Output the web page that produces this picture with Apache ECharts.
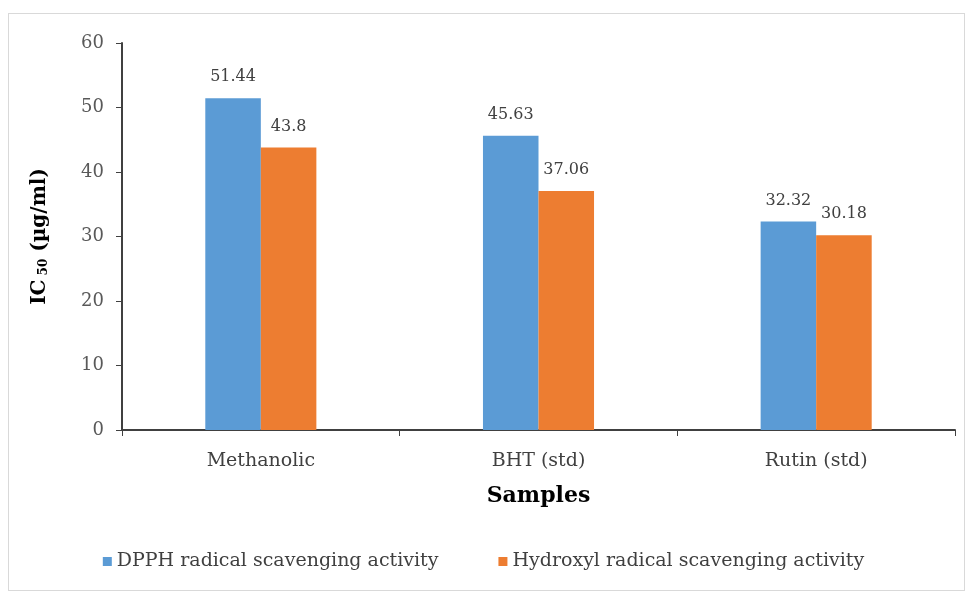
<!DOCTYPE html>
<html>
<head>
<meta charset="utf-8" />
<title>IC50 chart</title>
<script src="https://cdn.jsdelivr.net/npm/echarts@6/dist/echarts.min.js"></script>
<style>
  html, body { margin: 0; padding: 0; background: #fff; }
  #frame { position: absolute; left: 8px; top: 13px; width: 957px; height: 578px; border: 1px solid #d9d9d9; box-sizing: border-box; }
  #chart { width: 967px; height: 593px; }
</style>
</head>
<body>
<div id="frame"></div>
<div id="chart"></div>
<script>
var categories = ['Methanolic', 'BHT (std)', 'Rutin (std)'];
var dpphValues = [51.44, 45.63, 32.32];
var hydroxylValues = [43.8, 37.06, 30.18];
var seriesNames = ['DPPH radical scavenging activity', 'Hydroxyl radical scavenging activity'];

var font = 'DejaVu Serif';
var chart = echarts.init(document.getElementById('chart'));

var labelStyle = {
  show: true,
  position: 'top',
  distance: 13,
  color: '#404040',
  fontFamily: font,
  fontSize: 16
};

chart.setOption({
  animation: false,
  grid: { left: 122, right: 12, top: 43, bottom: 163 },
  legend: {
    bottom: 17,
    left: 'center',
    itemGap: 60,
    itemWidth: 9,
    itemHeight: 9,
    icon: 'rect',
    textStyle: { fontFamily: font, fontSize: 19, color: '#404040' },
    data: seriesNames
  },
  xAxis: {
    type: 'category',
    data: categories,
    name: 'Samples',
    nameLocation: 'middle',
    nameGap: 55,
    nameTextStyle: { fontFamily: font, fontSize: 22, fontWeight: 'bold', color: '#000' },
    axisLine: { lineStyle: { color: '#404040', width: 2 } },
    axisTick: { show: true, alignWithLabel: false, length: 6, lineStyle: { color: '#404040' } },
    axisLabel: { fontFamily: font, fontSize: 19, color: '#404040', margin: 22 }
  },
  yAxis: {
    type: 'value',
    min: 0,
    max: 60,
    interval: 10,
    name: '{a|IC}{s| 50}{a| (µg/ml)}',
    nameLocation: 'middle',
    nameGap: 72,
    nameRotate: 90,
    nameTextStyle: {
      rich: {
        a: { fontFamily: font, fontSize: 20, fontWeight: 'bold', color: '#000' },
        s: { fontFamily: font, fontSize: 12, fontWeight: 'bold', color: '#000', verticalAlign: 'bottom', padding: [8, 0, 0, 0] }
      }
    },
    axisLine: { show: true, lineStyle: { color: '#404040', width: 2 } },
    axisTick: { show: true, length: 6, lineStyle: { color: '#404040' } },
    axisLabel: { fontFamily: font, fontSize: 18, color: '#595959', margin: 18 },
    splitLine: { show: false }
  },
  series: [
    {
      name: seriesNames[0],
      type: 'bar',
      data: dpphValues,
      barWidth: '20%',
      barGap: '0%',
      itemStyle: { color: '#5B9BD5' },
      label: labelStyle
    },
    {
      name: seriesNames[1],
      type: 'bar',
      data: hydroxylValues,
      barWidth: '20%',
      itemStyle: { color: '#ED7D31' },
      label: labelStyle
    }
  ]
});
</script>
</body>
</html>
